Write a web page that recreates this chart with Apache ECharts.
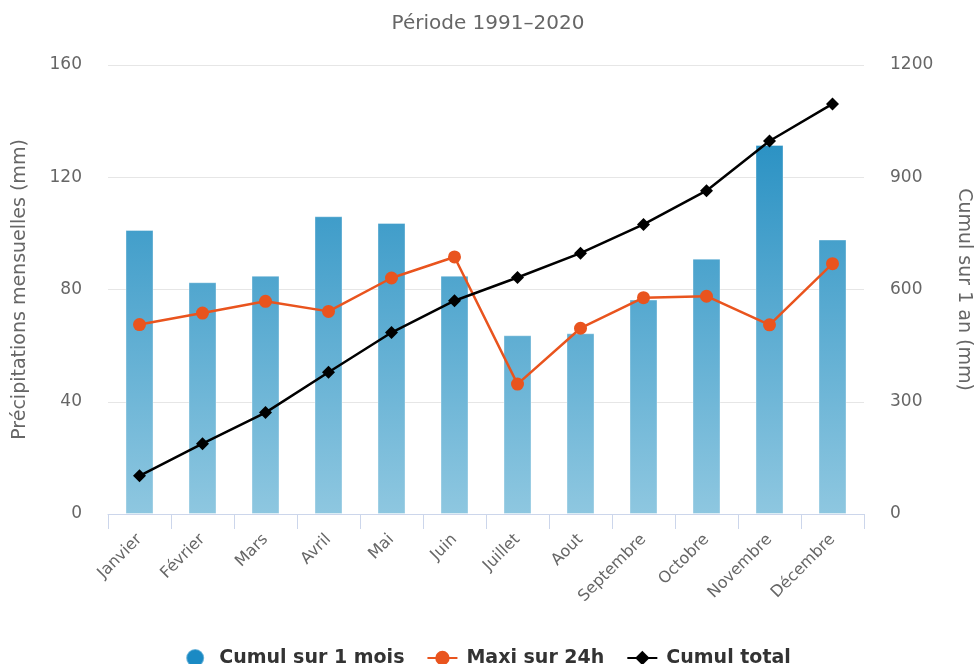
<!DOCTYPE html>
<html>
<head>
<meta charset="utf-8">
<script src="https://cdn.jsdelivr.net/npm/echarts@6/dist/echarts.min.js"></script>
<style>
  html, body { margin: 0; padding: 0; background: #fff; }
  #chart { width: 976px; height: 664px; }
</style>
</head>
<body>
<div id="chart"></div>
<script>
// Monthly precipitation, 1991–2020 normals
const months = ['Janvier', 'Février', 'Mars', 'Avril', 'Mai', 'Juin', 'Juillet', 'Aout', 'Septembre', 'Octobre', 'Novembre', 'Décembre'];
const monthlyTotal = [101.2, 82.6, 84.9, 106.1, 103.7, 84.9, 63.7, 64.4, 76.4, 91.0, 131.5, 97.8];
const max24h = [67.5, 71.6, 75.8, 72.2, 84.1, 91.6, 46.3, 66.2, 77.1, 77.6, 67.4, 89.2];
const runningTotal = [102, 188, 271, 379, 485, 570, 632, 697, 774, 864, 997, 1096];
const leftTicks = { min: 0, max: 160, interval: 40 };
const rightTicks = { min: 0, max: 1200, interval: 300 };

const FONT = 'DejaVu Sans';
const chart = echarts.init(document.getElementById('chart'));

chart.setOption({
  animation: false,
  textStyle: { fontFamily: FONT },
  title: {
    text: 'Période 1991–2020',
    left: 'center',
    top: 9,
    textStyle: { fontFamily: FONT, fontSize: 20, fontWeight: 'normal', color: '#666' }
  },
  legend: {
    top: 643,
    left: 'center',
    itemGap: 22,
    itemWidth: 30,
    itemHeight: 18,
    textStyle: { fontFamily: FONT, fontSize: 19, fontWeight: 'bold', color: '#333', padding: [0, 0, 0, 4] },
    data: [
      { name: 'Cumul sur 1 mois', icon: 'circle', itemStyle: { color: '#1a8ac4' } },
      { name: 'Maxi sur 24h' },
      { name: 'Cumul total' }
    ]
  },
  grid: { left: 108, right: 112, top: 65, bottom: 150, containLabel: false, outerBoundsMode: 'none' },
  xAxis: {
    type: 'category',
    data: months,
    boundaryGap: true,
    axisLine: { lineStyle: { color: '#ccd6eb', width: 1 } },
    axisTick: { show: true, length: 15, lineStyle: { color: '#ccd6eb' } },
    axisLabel: { rotate: 45, margin: 23, color: '#666', fontSize: 16, fontFamily: FONT, interval: 0 }
  },
  yAxis: [
    {
      type: 'value',
      min: leftTicks.min, max: leftTicks.max, interval: leftTicks.interval,
      name: 'Précipitations mensuelles (mm)',
      nameLocation: 'middle',
      nameGap: 78,
      nameTextStyle: { color: '#666', fontSize: 19, fontFamily: FONT },
      axisLine: { show: false },
      axisTick: { show: false },
      axisLabel: { color: '#666', fontSize: 17, margin: 26, fontFamily: FONT },
      splitLine: { lineStyle: { color: '#e6e6e6' } }
    },
    {
      type: 'value',
      min: rightTicks.min, max: rightTicks.max, interval: rightTicks.interval,
      name: 'Cumul sur 1 an (mm)',
      nameLocation: 'middle',
      nameRotate: -90,
      nameGap: 90,
      nameTextStyle: { color: '#666', fontSize: 19, fontFamily: FONT },
      axisLine: { show: false },
      axisTick: { show: false },
      axisLabel: { color: '#666', fontSize: 17, margin: 26, fontFamily: FONT, formatter: v => String(v) },
      splitLine: { show: false }
    }
  ],
  series: [
    {
      name: 'Cumul sur 1 mois',
      type: 'bar',
      yAxisIndex: 0,
      data: monthlyTotal,
      barWidth: 28,
      itemStyle: {
        borderColor: 'rgba(255,255,255,0.35)',
        borderWidth: 1,
        color: {
          type: 'linear', x: 0, y: 65, x2: 0, y2: 514, global: true,
          colorStops: [
            { offset: 0, color: '#1787be' },
            { offset: 1, color: '#8ec7e0' }
          ]
        }
      }
    },
    {
      name: 'Maxi sur 24h',
      type: 'line',
      yAxisIndex: 0,
      data: max24h,
      symbol: 'circle',
      symbolSize: 13,
      color: '#e9541e',
      lineStyle: { width: 2.5, color: '#e9541e' },
      itemStyle: { color: '#e9541e' },
      z: 3
    },
    {
      name: 'Cumul total',
      type: 'line',
      yAxisIndex: 1,
      data: runningTotal,
      symbol: 'diamond',
      symbolSize: 13,
      color: '#000',
      lineStyle: { width: 2.5, color: '#000' },
      itemStyle: { color: '#000' },
      z: 4
    }
  ]
});
</script>
</body>
</html>
